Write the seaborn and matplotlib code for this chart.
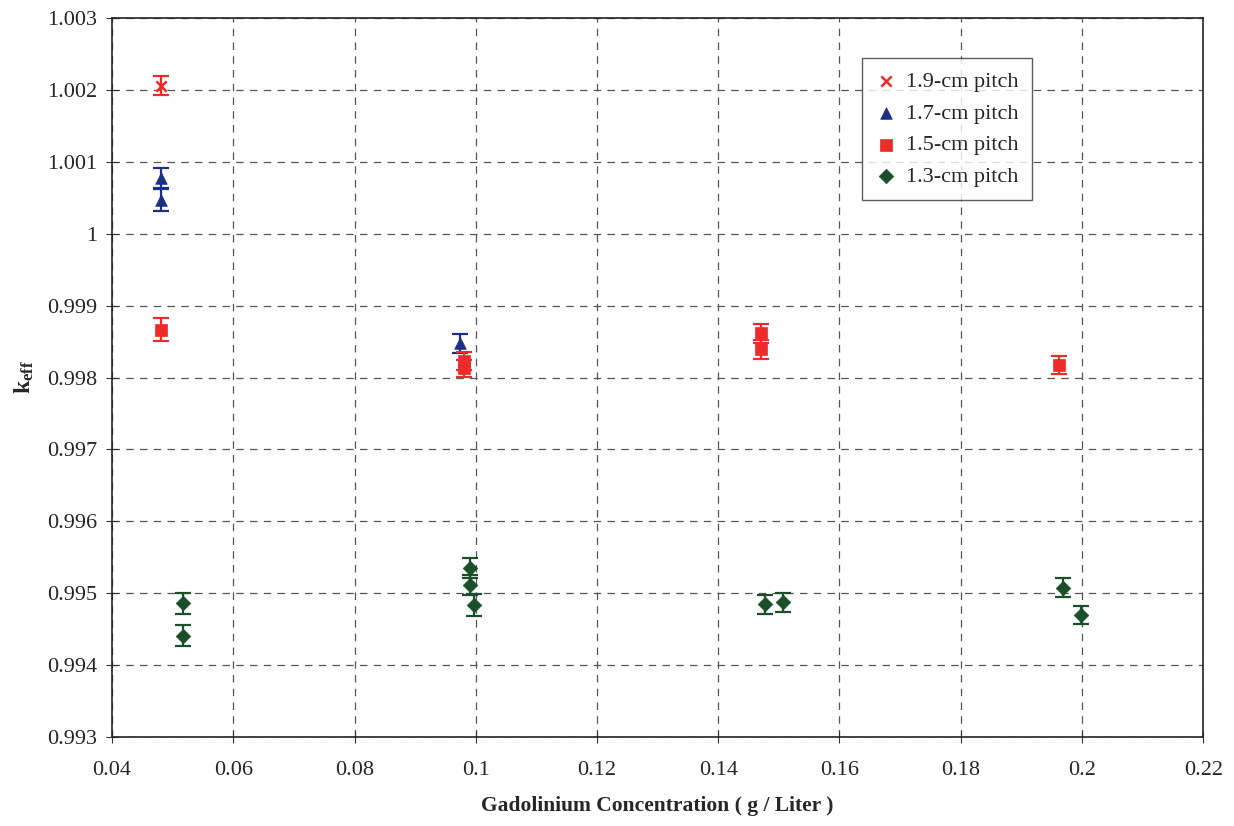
import numpy as np
import pandas as pd
import matplotlib
matplotlib.use('Agg')
import matplotlib.pyplot as plt
import seaborn as sns

# ── Data ───────────────────────────────────────────
pitch_19_x = [0.0481]
pitch_19_y = [1.00206]
pitch_19_err = [0.00013]

pitch_17_x = [0.0481, 0.0481, 0.0974]
pitch_17_y = [1.000775, 1.00047, 0.998475]
pitch_17_err = [0.00014, 0.00015, 0.00013]

pitch_15_x = [0.0480, 0.0980, 0.0980, 0.1471, 0.1471, 0.1962]
pitch_15_y = [0.998661, 0.99823, 0.99813, 0.998614, 0.998393, 0.998174]
pitch_15_err = [0.00016, 0.00012, 0.00012, 0.00013, 0.00013, 0.00013]

pitch_13_x = [0.0517, 0.0517, 0.0990, 0.0990, 0.0997, 0.1477, 0.1507, 0.1969, 0.1999]
pitch_13_y = [0.99486, 0.99441, 0.99535, 0.99512, 0.994836, 0.994846, 0.994873,
              0.995077, 0.994697]
pitch_13_err = [0.00015, 0.00015, 0.00014, 0.00014, 0.00015, 0.000135, 0.000135,
                0.00013, 0.00013]

series = [
    ('1.9-cm pitch', pitch_19_x, pitch_19_y, pitch_19_err, 'X', '#ee2b2b'),
    ('1.7-cm pitch', pitch_17_x, pitch_17_y, pitch_17_err, '^', '#1c2f86'),
    ('1.5-cm pitch', pitch_15_x, pitch_15_y, pitch_15_err, 's', '#ee2b2b'),
    ('1.3-cm pitch', pitch_13_x, pitch_13_y, pitch_13_err, 'D', '#1b4f2a'),
]

rows = []
for name, xs, ys, es, _, _ in series:
    for x, y, e in zip(xs, ys, es):
        rows.append({'pitch': name, 'conc': x, 'keff': y, 'err': e})
df = pd.DataFrame(rows)

# ── Plot ───────────────────────────────────────────
sns.set_style('white')
plt.rcParams['font.family'] = ['Liberation Serif', 'DejaVu Serif']
plt.rcParams['mathtext.fontset'] = 'custom'
plt.rcParams['mathtext.rm'] = 'Liberation Serif'
plt.rcParams['mathtext.bf'] = 'Liberation Serif:bold'

fig = plt.figure(figsize=(12.34, 8.26), dpi=100)
ax = fig.add_axes([0.0908, 0.1077, 0.8842, 0.8705])

sizes = {'1.9-cm pitch': 60, '1.7-cm pitch': 70, '1.5-cm pitch': 75, '1.3-cm pitch': 55}

for name, xs, ys, es, m, c in series:
    sub = df[df['pitch'] == name]
    ax.errorbar(sub['conc'], sub['keff'], yerr=sub['err'], fmt='none',
                ecolor=c, elinewidth=1.6, capsize=5.5, capthick=1.6, zorder=3)
    if m == 'X':
        ax.scatter(sub['conc'], sub['keff'], marker='x', s=55, color=c,
                   linewidths=1.8, zorder=4, label=name)
    else:
        sns.scatterplot(data=sub, x='conc', y='keff', marker=m, color=c,
                        s=sizes[name], edgecolor=c, linewidth=0.5, ax=ax,
                        zorder=4, label=name)

xt = np.round(np.arange(0.04, 0.2201, 0.02), 2)
yt = np.round(np.arange(0.993, 1.00301, 0.001), 3)
ax.set_xlim(0.04, 0.22)
ax.set_ylim(0.993, 1.003)
ax.set_xticks(xt)
ax.set_yticks(yt)
ax.set_xticklabels([f'{v:g}' for v in xt])
ax.set_yticklabels([f'{v:g}' for v in yt])
ax.tick_params(axis='both', labelsize=16, length=8, direction='inout',
               color='#333333', bottom=True, left=True)
ax.tick_params(axis='x', pad=13)
ax.tick_params(axis='y', pad=7)

ax.grid(True, linestyle=(0, (6, 5)), color='#555555', linewidth=0.9)
ax.set_axisbelow(True)
for s in ax.spines.values():
    s.set_color('#222222')
    s.set_linewidth(1.2)

ax.set_xlabel('Gadolinium Concentration ( g / Liter )', fontsize=15.5,
              fontweight='bold', labelpad=12)
ax.set_ylabel(r'$\mathbf{k_{eff}}$', fontsize=17, labelpad=8)

leg = ax.legend(loc='upper left', bbox_to_anchor=(0.687, 0.944), fontsize=16,
                frameon=True, fancybox=False, edgecolor='#333333',
                handletextpad=0.4, borderpad=0.6, labelspacing=0.5,
                handlelength=1.0, borderaxespad=0)
leg.get_frame().set_linewidth(1.0)

plt.savefig('out.png', dpi=100)
